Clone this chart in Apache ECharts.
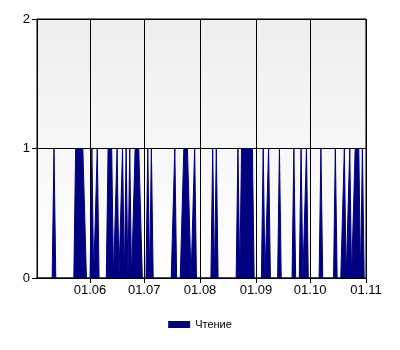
<!DOCTYPE html>
<html>
<head>
<meta charset="utf-8">
<script src="https://cdn.jsdelivr.net/npm/echarts@6/dist/echarts.min.js"></script>
<style>html,body{margin:0;padding:0;background:#fff}#c{width:400px;height:350px}</style>
</head>
<body>
<div id="c"></div>
<script>
// Daily readings (0/1), one array per month
var year = 2011;
var may = [0,0,0,0,0,0,0,0,0,0, 0,1,0,0,0,0,0,0,0,0, 0,0,0,1,1,1,1,1,1,0, 0];
var jun = [0,1,0,0,1,0,0,0,0,0, 1,1,1,0,0,1,0,0,1,0, 1,0,1,0,0,1,1,1,1,0];
var jul = [0,0,1,0,1,0,0,0,0,0, 0,0,0,0,0,0,0,1,0,0, 0,0,1,1,1,1,0,0,1,0, 0];
var aug = [0,0,0,0,0,0,0,1,0,1, 0,0,0,0,0,0,0,0,0,0, 0,1,0,1,1,1,1,1,1,1, 0];
var sep = [0,0,0,0,1,0,0,1,0,0, 0,0,0,1,0,0,0,0,0,0, 0,1,0,0,0,1,0,0,1,0];
var oct = [0,0,0,0,0,0,1,0,0,0, 0,0,0,0,1,0,0,0,0,1, 0,0,1,0,0,1,1,1,0,1, 0];
var months = [[5, may],[6, jun],[7, jul],[8, aug],[9, sep],[10, oct]];
var seriesName = 'Чтение';
var yTicks = [0, 1, 2];

var data = [];
months.forEach(function (m) {
  m[1].forEach(function (v, i) {
    data.push([new Date(year, m[0] - 1, i + 1).getTime(), v]);
  });
});

var xMin = new Date(year, 4, 2, 14, 0).getTime();
var xMax = new Date(year, 10, 1).getTime();

var chart = echarts.init(document.getElementById('c'), null, {renderer: 'canvas'});
chart.setOption({
  animation: false,
  textStyle: {fontFamily: 'Liberation Sans'},
  grid: {
    left: 37, right: 34, top: 19, bottom: 72,
    show: true,
    borderColor: '#000', borderWidth: 1,
    backgroundColor: {
      type: 'linear', x: 0, y: 0, x2: 0, y2: 1,
      colorStops: [
        {offset: 0, color: '#eeeeee'},
        {offset: 0.5, color: '#f7f7f7'},
        {offset: 1, color: '#ffffff'}
      ]
    }
  },
  legend: {
    bottom: 15, left: 'center',
    icon: 'rect', itemWidth: 22, itemHeight: 7, itemGap: 6,
    textStyle: {fontSize: 11, color: '#000', fontFamily: 'Liberation Sans'},
    data: [seriesName]
  },
  xAxis: {
    type: 'time',
    min: xMin, max: xMax,
    splitNumber: 6,
    axisLine: {lineStyle: {color: '#000'}},
    axisTick: {show: true, length: 5, lineStyle: {color: '#000'}},
    axisLabel: {
      color: '#000', fontSize: 13, margin: 6,
      showMinLabel: false, showMaxLabel: true,
      formatter: '{dd}.{MM}'
    },
    splitLine: {show: true, lineStyle: {color: '#000', width: 1}}
  },
  yAxis: {
    type: 'value',
    min: yTicks[0], max: yTicks[yTicks.length - 1], interval: 1,
    axisLine: {show: true, lineStyle: {color: '#000'}},
    axisTick: {show: true, length: 5, lineStyle: {color: '#000'}},
    axisLabel: {color: '#000', fontSize: 13, margin: 7},
    splitLine: {show: true, lineStyle: {color: '#000', width: 1}}
  },
  series: [{
    name: seriesName,
    type: 'line',
    data: data,
    showSymbol: false,
    symbol: 'none',
    lineStyle: {color: '#000080', width: 1},
    itemStyle: {color: '#000080'},
    areaStyle: {color: '#000080', opacity: 1}
  }]
});
</script>
</body>
</html>
